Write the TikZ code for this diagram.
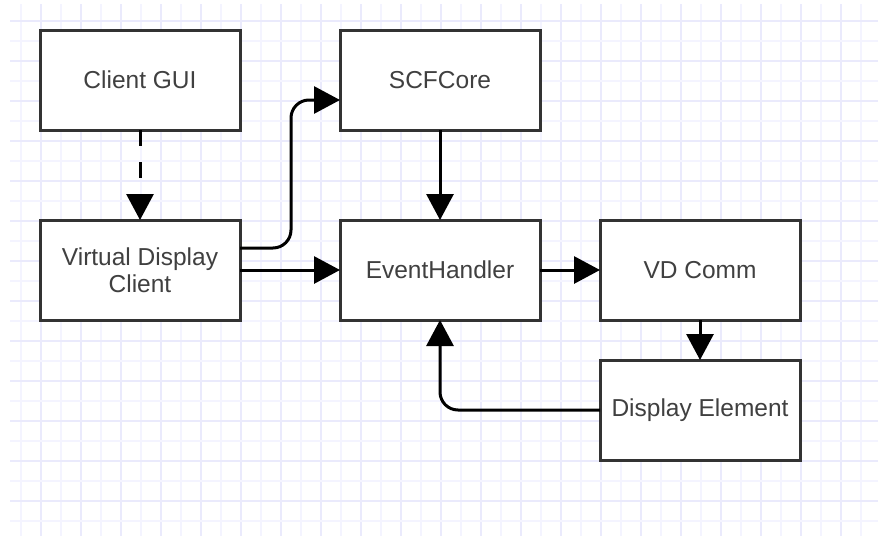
\documentclass[tikz,border=0pt]{standalone}
\usepackage{fontspec}
\setmainfont{Liberation Sans}
\usetikzlibrary{arrows.meta}

\definecolor{gridminor}{HTML}{F4F4FF}
\definecolor{gridmajor}{HTML}{EAEAFC}
\definecolor{boxline}{HTML}{333333}
\definecolor{labeltext}{HTML}{404040}

\begin{document}
\begin{tikzpicture}[x=1pt,y=-1pt,
  block/.style={draw=boxline, line width=3pt, fill=white,
    minimum width=200pt, minimum height=100pt, inner sep=0pt, outer sep=0pt,
    text=labeltext, font=\fontsize{24.5}{27}\selectfont, align=center},
  link/.style={draw=black, line width=3pt, line cap=butt,
    -{Triangle[length=26pt,width=27pt]}, rounded corners=18pt},
  gridline/.style={draw=gridminor, line width=1.2pt},
  gridbold/.style={draw=gridmajor, line width=1.2pt}]

  % canvas
  \useasboundingbox (0,0) rectangle (878,536);
  \fill[white] (0,0) rectangle (878,536);

  % background grid
  \foreach \gx in {21,61,...,861} \draw[gridline] (\gx,4) -- (\gx,536);
  \foreach \gx in {41,81,...,841} \draw[gridbold] (\gx,4) -- (\gx,536);
  \foreach \gy in {41,81,...,521} \draw[gridline] (10,\gy) -- (878,\gy);
  \foreach \gy in {21,61,...,501} \draw[gridbold] (10,\gy) -- (878,\gy);

  % blocks
  \node[block] (gui) at (140,80)  {Client GUI};
  \node[block] (scf) at (440,80)  {SCFCore};
  \node[block] (vdc) at (140,270) {Virtual Display\\Client};
  \node[block] (eh)  at (440,270) {EventHandler};
  \node[block] (vdcomm) at (700,270) {VD Comm};
  \node[block] (de)  at (700,410) {Display Element};

  % helper points for the jogged connector
  \coordinate (vdcOut) at ([yshift=22pt]vdc.east);
  \coordinate (scfIn) at ([yshift=-20pt]scf.west);
  \coordinate (jog) at (291,0);

  % connectors
  \draw[link, dash pattern=on 16pt off 16pt] (gui.south) -- (vdc.north);
  \draw[link] (vdcOut) -- (vdcOut -| jog) -- (jog |- scfIn) -- (scfIn);
  \draw[link] (vdc.east) -- (eh.west);
  \draw[link] (scf.south) -- (eh.north);
  \draw[link] (eh.east) -- (vdcomm.west);
  \draw[link] (vdcomm.south) -- (de.north);
  \draw[link] (de.west) -| (eh.south);
\end{tikzpicture}
\end{document}
